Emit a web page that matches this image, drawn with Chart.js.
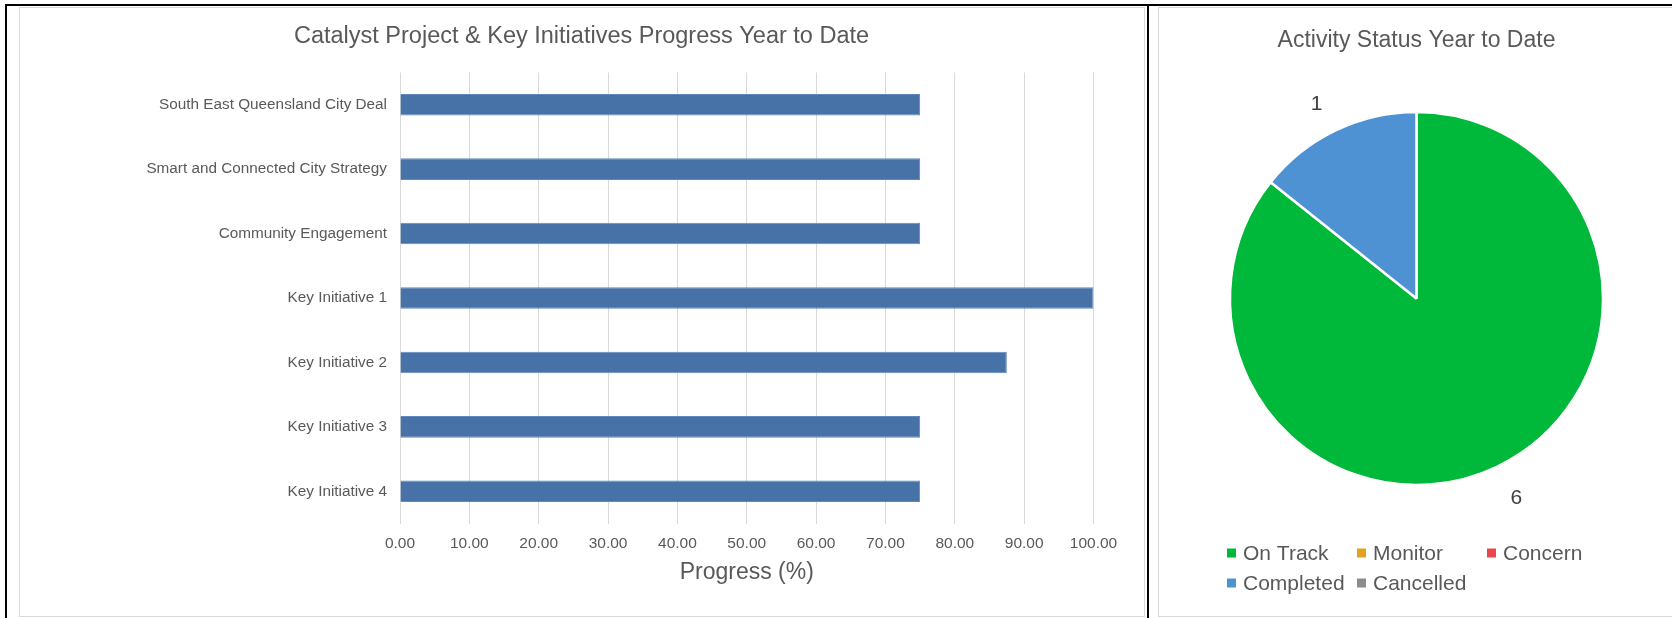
<!DOCTYPE html>
<html><head><meta charset="utf-8">
<script src="https://cdn.jsdelivr.net/npm/chart.js@4.4.0/dist/chart.umd.min.js"></script>
<style>
html,body{margin:0;padding:0;background:#fff;}
body{width:1672px;height:618px;position:relative;overflow:hidden;}
.blk{position:absolute;background:#000;}
.panel{position:absolute;border:1px solid #d9d9d9;box-sizing:border-box;pointer-events:none;}
.wrap{position:absolute;}
canvas{display:block;}
</style>
</head><body>
<div class="wrap" style="left:19px;top:7px;width:1125px;height:606px;"><canvas id="bar" width="1125" height="606"></canvas></div>
<div class="wrap" style="left:1158px;top:7px;width:514px;height:606px;"><canvas id="pie" width="514" height="606"></canvas></div>
<div class="panel" style="left:19px;top:7px;width:1126px;height:610px;"></div>
<div class="panel" style="left:1158px;top:7px;width:520px;height:610px;"></div>
<div class="blk" style="left:5px;top:4px;width:1667px;height:2px;"></div>
<div class="blk" style="left:5px;top:4px;width:2px;height:614px;"></div>
<div class="blk" style="left:1147px;top:4px;width:2px;height:614px;"></div>
<script>
// ---- data ----
const barCategories = ["South East Queensland City Deal","Smart and Connected City Strategy","Community Engagement","Key Initiative 1","Key Initiative 2","Key Initiative 3","Key Initiative 4"];
const barValues = [75, 75, 75, 100, 87.5, 75, 75];
const xTickLabels = ["0.00","10.00","20.00","30.00","40.00","50.00","60.00","70.00","80.00","90.00","100.00"];
const barTitle = "Catalyst Project & Key Initiatives Progress Year to Date";
const barAxisTitle = "Progress (%)";

const pieLabels = ["On Track","Monitor","Concern","Completed","Cancelled"];
const pieValues = [6, 0, 0, 1, 0];
const pieColors = ["#00b83a","#dfa31c","#e8474f","#4f92d4","#8c8c90"];
const pieTitle = "Activity Status Year to Date";

const F = '"Liberation Sans", Arial, sans-serif';
const TXT = '#595959';

new Chart(document.getElementById('bar'), {
  type: 'bar',
  data: { labels: barCategories, datasets: [{ data: barValues, backgroundColor: '#4672a8', borderColor: '#6289bb', borderWidth: 1, barPercentage: 0.335, categoryPercentage: 1 }] },
  options: {
    indexAxis: 'y', responsive: false, animation: false,
    layout: { padding: 0 },
    plugins: {
      legend: { display: false }, tooltip: { enabled: false },
      title: { display: true, text: barTitle, color: TXT, font: { size: 23.5, weight: 'normal', family: F }, padding: { top: 15.9, bottom: 21.4 } }
    },
    scales: {
      x: {
        min: 0, max: 100,
        ticks: { stepSize: 10, callback: (v, i) => xTickLabels[i], color: TXT, font: { size: 15.5, family: F }, padding: 11, maxRotation: 0 },
        grid: { color: '#d9d9d9', drawTicks: false },
        border: { display: false },
        title: { display: true, text: barAxisTitle, color: TXT, font: { size: 23, family: F }, padding: { top: 4, bottom: 26.7 } },
        afterFit: s => { s.height = 89.5; s.paddingRight = 50.5; s.paddingLeft = 0; }
      },
      y: {
        ticks: { color: TXT, font: { size: 15.3, family: F }, padding: 13 },
        grid: { display: false, drawTicks: false },
        border: { display: false },
        afterFit: s => { s.width = 381; }
      }
    }
  }
});

const pieValueLabels = {
  id: 'pieValueLabels',
  afterDatasetsDraw(chart) {
    const ctx = chart.ctx;
    const meta = chart.getDatasetMeta(0);
    const vals = chart.data.datasets[0].data;
    ctx.save();
    ctx.font = '21px ' + F;
    ctx.fillStyle = '#404040';
    ctx.textAlign = 'center';
    ctx.textBaseline = 'middle';
    meta.data.forEach((arc, i) => {
      if (!vals[i]) return;
      const p = arc.getProps(['x','y','startAngle','endAngle','outerRadius'], true);
      const mid = (p.startAngle + p.endAngle) / 2;
      const d = p.outerRadius + 32;
      const cx = Math.cos(mid), sy = Math.sin(mid);
      ctx.fillText(String(vals[i]), p.x + cx * d + Math.sign(cx) * 5, p.y + sy * d + 2.5);
    });
    ctx.restore();
  }
};

const gridLegend = {
  id: 'gridLegend',
  afterDraw(chart) {
    const ctx = chart.ctx;
    const labels = chart.data.labels;
    const colors = chart.data.datasets[0].backgroundColor;
    const left = 69, colW = 130, top = 546, rowH = 30, box = 9, cols = 3;
    ctx.save();
    ctx.font = '21px ' + F;
    ctx.textAlign = 'left';
    ctx.textBaseline = 'middle';
    labels.forEach((lab, i) => {
      const x = left + (i % cols) * colW;
      const y = top + Math.floor(i / cols) * rowH;
      ctx.fillStyle = colors[i];
      ctx.fillRect(x, y - box / 2, box, box);
      ctx.fillStyle = TXT;
      ctx.fillText(lab, x + 16, y + 1);
    });
    ctx.restore();
  }
};

new Chart(document.getElementById('pie'), {
  type: 'pie',
  data: { labels: pieLabels, datasets: [{ data: pieValues, backgroundColor: pieColors, borderColor: '#ffffff', borderWidth: 2.5, hoverOffset: 0 }] },
  options: {
    responsive: false, animation: false,
    layout: { padding: { left: 70.75, right: 67.75, top: 0, bottom: 126.75 } },
    plugins: {
      legend: { display: false }, tooltip: { enabled: false },
      title: { display: true, text: pieTitle, color: TXT, font: { size: 23, weight: 'normal', family: F }, padding: { top: 19.6, bottom: 56.55 } }
    }
  },
  plugins: [pieValueLabels, gridLegend]
});
</script>
</body></html>
